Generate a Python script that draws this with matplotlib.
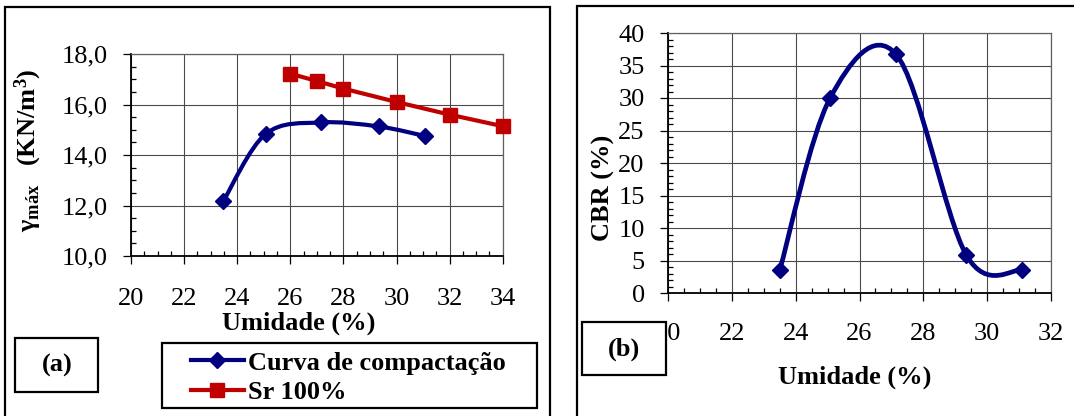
import numpy as np
import matplotlib
matplotlib.use("Agg")
import matplotlib.pyplot as plt
from matplotlib.path import Path
from matplotlib.patches import PathPatch, Rectangle
from matplotlib.lines import Line2D
from matplotlib.ticker import MultipleLocator

# ---------------- data ----------------
umidade_comp = [23.48, 25.07, 27.14, 29.33, 31.08]
gamma_comp = [12.18, 14.83, 15.29, 15.13, 14.75]

umidade_sr = [26.0, 27.0, 28.0, 30.0, 32.0, 34.0]
gamma_sr = [17.22, 16.93, 16.63, 16.10, 15.60, 15.14]

umidade_cbr = [23.5, 25.08, 27.15, 29.35, 31.08]
cbr = [3.5, 30.0, 36.7, 5.8, 3.5]

yticks_a = [10, 12, 14, 16, 18]
yticklabels_a = ["10,0", "12,0", "14,0", "16,0", "18,0"]
xticks_a = [20, 22, 24, 26, 28, 30, 32, 34]
xticks_b = [20, 22, 24, 26, 28, 30, 32]
yticks_b = [0, 5, 10, 15, 20, 25, 30, 35, 40]

label_comp = "Curva de compactação"
label_sr = "Sr 100%"

# ---------------- style ----------------
plt.rcParams["font.family"] = ["Liberation Serif", "DejaVu Serif"]
plt.rcParams["mathtext.fontset"] = "custom"
plt.rcParams["mathtext.rm"] = "Liberation Serif"
plt.rcParams["mathtext.bf"] = "Liberation Serif:bold"
plt.rcParams["mathtext.it"] = "Liberation Serif:italic"

FS = 19
BLUE = "#000080"
RED = "#C00000"
GRID = "#4a4a4a"

W, H = 1074, 416
fig = plt.figure(figsize=(W / 100, H / 100), dpi=100)


def fx(px):
    return px / W


def fy(py):
    return 1 - py / H


def smooth_path(xs, ys):
    """Excel-like smoothed line (Catmull-Rom as cubic Bezier)."""
    pts = np.column_stack([xs, ys]).astype(float)
    n = len(pts)
    verts = [pts[0]]
    codes = [Path.MOVETO]
    for i in range(n - 1):
        p0 = pts[i - 1] if i > 0 else pts[i]
        p1 = pts[i]
        p2 = pts[i + 1]
        p3 = pts[i + 2] if i + 2 < n else pts[i + 1]
        c1 = p1 + (p2 - p0) / 6.0
        c2 = p2 - (p3 - p1) / 6.0
        verts += [c1, c2, p2]
        codes += [Path.CURVE4] * 3
    return Path(verts, codes)


def style_axes(ax):
    ax.set_facecolor("white")
    ax.grid(True, which="major", color=GRID, lw=0.8)
    ax.set_axisbelow(True)
    for s in ["top", "right"]:
        ax.spines[s].set_color("#606060")
        ax.spines[s].set_linewidth(0.9)
    for s in ["left", "bottom"]:
        ax.spines[s].set_color("black")
        ax.spines[s].set_linewidth(1.3)
    ax.tick_params(which="major", direction="out", length=5.8, width=0.9,
                   labelsize=FS, colors="black")
    ax.tick_params(which="minor", direction="in", length=3.6, width=0.9)
    ax.tick_params(axis="x", which="major", pad=17.5)
    ax.tick_params(axis="y", which="major", pad=11)


# ---------------- panel frames ----------------
fig.patches.append(Rectangle((fx(5), -0.1), fx(549.5) - fx(5), fy(7) + 0.1,
                             transform=fig.transFigure, fill=False,
                             ec="black", lw=1.6, zorder=0))
fig.patches.append(Rectangle((fx(577), -0.1), 0.6, fy(6) + 0.1,
                             transform=fig.transFigure, fill=False,
                             ec="black", lw=1.6, zorder=0))

# ---------------- panel (a) ----------------
axa = fig.add_axes([fx(131), fy(256), fx(502.7) - fx(131), fy(54) - fy(256)])
style_axes(axa)
axa.set_xlim(20, 34)
axa.set_ylim(10, 18)
axa.set_xticks(xticks_a)
axa.set_yticks(yticks_a)
axa.set_yticklabels(yticklabels_a)
axa.xaxis.set_minor_locator(MultipleLocator(0.5))
axa.yaxis.set_minor_locator(MultipleLocator(0.5))

axa.add_patch(PathPatch(smooth_path(umidade_comp, gamma_comp), fill=False,
                        ec=BLUE, lw=3.0, capstyle="round", joinstyle="round",
                        zorder=3))
axa.plot(umidade_comp, gamma_comp, ls="none", marker="D", ms=8,
         color=BLUE, zorder=4)
axa.plot(umidade_sr, gamma_sr, ls="-", lw=3.0, marker="s", ms=9.5,
         color=RED, zorder=4, clip_on=False)

fig.text(fx(299), fy(323), "Umidade (%)", fontsize=FS, fontweight="bold",
         ha="center", va="center")
fig.text(fx(28), fy(150),
         r"$\mathbf{γ}_{\mathbf{máx}}\quad\mathbf{(KN/m^3)}$",
         fontsize=FS, rotation=90, ha="center", va="center")

# label box (a)
fig.patches.append(Rectangle((fx(15), fy(392)), fx(98) - fx(15), fy(338) - fy(392),
                             transform=fig.transFigure, fc="white",
                             ec="black", lw=1.6, zorder=5))
fig.text(fx(57), fy(365), "(a)", fontsize=FS, fontweight="bold",
         ha="center", va="center", zorder=6)

# legend (a)
fig.patches.append(Rectangle((fx(162), fy(408)), fx(537) - fx(162), fy(343) - fy(408),
                             transform=fig.transFigure, fc="white",
                             ec="black", lw=1.6, zorder=5))
h_comp = Line2D([], [], color=BLUE, lw=3.0, marker="D", ms=8)
h_sr = Line2D([], [], color=RED, lw=3.0, marker="s", ms=9.5)
leg = fig.legend([h_comp, h_sr], [label_comp, label_sr], loc="center left",
                 bbox_to_anchor=(fx(191), fy(377.5)), frameon=False,
                 borderpad=0, borderaxespad=0, handlelength=2.0,
                 handletextpad=0.15, labelspacing=0.22, numpoints=1,
                 prop={"size": FS, "weight": "bold"})
leg.set_zorder(6)

# ---------------- panel (b) ----------------
axb = fig.add_axes([fx(668), fy(293), fx(1051) - fx(668), fy(33) - fy(293)])
style_axes(axb)
axb.set_xlim(20, 32)
axb.set_ylim(0, 40)
axb.set_xticks(xticks_b)
axb.set_yticks(yticks_b)
axb.xaxis.set_minor_locator(MultipleLocator(0.5))
axb.yaxis.set_minor_locator(MultipleLocator(1))
axb.tick_params(axis="x", which="major", pad=16)

axb.add_patch(PathPatch(smooth_path(umidade_cbr, cbr), fill=False,
                        ec=BLUE, lw=3.4, capstyle="round", joinstyle="round",
                        zorder=3))
axb.plot(umidade_cbr, cbr, ls="none", marker="D", ms=8.2, color=BLUE, zorder=4)

fig.text(fx(855), fy(377), "Umidade (%)", fontsize=FS, fontweight="bold",
         ha="center", va="center")
fig.text(fx(603), fy(188), "CBR (%)", fontsize=FS, fontweight="bold",
         rotation=90, ha="center", va="center")

# label box (b)
fig.patches.append(Rectangle((fx(582), fy(375)), fx(666) - fx(582), fy(322) - fy(375),
                             transform=fig.transFigure, fc="white",
                             ec="black", lw=1.6, zorder=5))
fig.text(fx(624), fy(349), "(b)", fontsize=FS, fontweight="bold",
         ha="center", va="center", zorder=6)

fig.savefig("out.png", dpi=100)
